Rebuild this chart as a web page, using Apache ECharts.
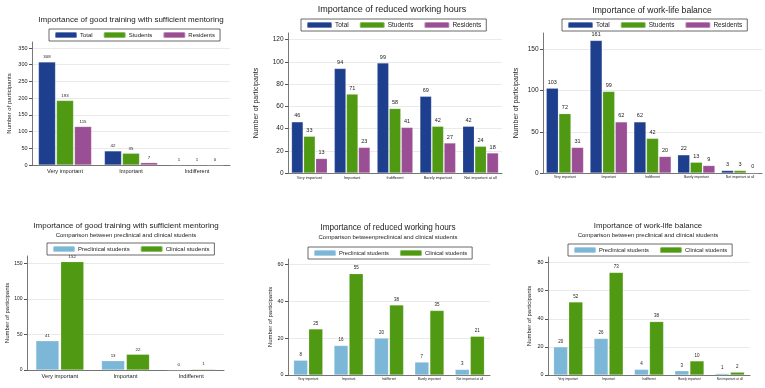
<!DOCTYPE html>
<html>
<head>
<meta charset="utf-8">
<script src="https://cdn.jsdelivr.net/npm/echarts@6/dist/echarts.min.js"></script>
<style>
  html, body { margin: 0; padding: 0; background: #fff; }
  #chart { width: 765px; height: 388px; }
</style>
</head>
<body>
<div id="chart"></div>
<script>
// categories
const cat3 = ["Very important", "Important", "Indifferent"];
const cat5 = ["Very important", "Important", "Indifferent", "Barely important", "Not important at all"];

// top row: total / students / residents
const trainTotal = [308, 42, 1];
const trainStudents = [193, 35, 1];
const trainResidents = [115, 7, 0];

const hoursTotal = [46, 94, 99, 69, 42];
const hoursStudents = [33, 71, 58, 42, 24];
const hoursResidents = [13, 23, 41, 27, 18];

const balanceTotal = [103, 161, 62, 22, 3];
const balanceStudents = [72, 99, 42, 13, 3];
const balanceResidents = [31, 62, 20, 9, 0];

// bottom row: preclinical / clinical
const trainPre = [41, 13, 0];
const trainClin = [152, 22, 1];

const hoursPre = [8, 16, 20, 7, 3];
const hoursClin = [25, 55, 38, 35, 21];

const balancePre = [20, 26, 4, 3, 1];
const balanceClin = [52, 73, 38, 10, 2];

// tick labels
const ticks1 = [0, 50, 100, 150, 200, 250, 300, 350];
const ticks2 = [0, 20, 40, 60, 80, 100, 120];
const ticks3 = [0, 50, 100, 150];
const ticks4 = [0, 50, 100, 150];
const ticks5 = [0, 20, 40, 60];
const ticks6 = [0, 20, 40, 60, 80];

const NAVY = "#1d3f8e";
const GREEN = "#4f9a12";
const PURPLE = "#9a4f94";
const LIGHT = "#7db7d8";
const TXT = "#222";

const panels = [
  { title: "Importance of good training with sufficient mentoring", sub: "", tx: 131, ty: 16, tfs: 8,
    left: 32, top: 42, right: 230, bottom: 165, max: 368, ticks: ticks1, cats: cat3,
    yfs: 5.5, cfs: 5.6, lfs: 4.4, nfs: 6, nameX: 12, bw: 17, gap: "6%",
    legend: { left: 49, top: 29, fs: 6, iw: 22 },
    series: [["Total", trainTotal, NAVY], ["Students", trainStudents, GREEN], ["Residents", trainResidents, PURPLE]] },
  { title: "Importance of reduced working hours", sub: "", tx: 392, ty: 5, tfs: 9,
    left: 288, top: 33, right: 502, bottom: 173, max: 126, ticks: ticks2, cats: cat5,
    yfs: 6.5, cfs: 3.9, lfs: 5.5, nfs: 7, nameX: 260, bw: 11.5, gap: "5%",
    legend: { left: 301, top: 19, fs: 6.5, iw: 25 },
    series: [["Total", hoursTotal, NAVY], ["Students", hoursStudents, GREEN], ["Residents", hoursResidents, PURPLE]] },
  { title: "Importance of work-life balance", sub: "", tx: 652, ty: 6, tfs: 8.6,
    left: 543, top: 33, right: 762, bottom: 173, max: 170, ticks: ticks3, cats: cat5,
    yfs: 6.5, cfs: 3.4, lfs: 5.5, nfs: 7, nameX: 520, bw: 12, gap: "5%",
    legend: { left: 562, top: 19, fs: 6.5, iw: 25 },
    series: [["Total", balanceTotal, NAVY], ["Students", balanceStudents, GREEN], ["Residents", balanceResidents, PURPLE]] },
  { title: "Importance of good training with sufficient mentoring", sub: "Comparison between preclinical and clinical students", tx: 126, ty: 222, tfs: 8,
    left: 27, top: 256, right: 224, bottom: 370, max: 160, ticks: ticks4, cats: cat3,
    yfs: 5, cfs: 5.7, lfs: 4.4, nfs: 6, nameX: 10, bw: 23, gap: "8%",
    legend: { left: 47, top: 243, fs: 6, iw: 22 },
    series: [["Preclinical students", trainPre, LIGHT], ["Clinical students", trainClin, GREEN]] },
  { title: "Importance of reduced working hours", sub: "Comparison betweenpreclinical and clinical students", tx: 388, ty: 224, tfs: 8.2,
    left: 288, top: 259, right: 490, bottom: 375, max: 63, ticks: ticks5, cats: cat5,
    yfs: 5.4, cfs: 3.2, lfs: 4.5, nfs: 6, nameX: 273, bw: 14, gap: "8%",
    legend: { left: 308, top: 247, fs: 5.8, iw: 22 },
    series: [["Preclinical students", hoursPre, LIGHT], ["Clinical students", hoursClin, GREEN]] },
  { title: "Importance of work-life balance", sub: "Comparison between preclinical and clinical students", tx: 648, ty: 222, tfs: 7.8,
    left: 548, top: 257, right: 750, bottom: 375, max: 84, ticks: ticks6, cats: cat5,
    yfs: 5.4, cfs: 3.1, lfs: 4.5, nfs: 6, nameX: 532, bw: 14, gap: "8%",
    legend: { left: 568, top: 244, fs: 5.8, iw: 22 },
    series: [["Preclinical students", balancePre, LIGHT], ["Clinical students", balanceClin, GREEN]] }
];

const option = {
  animation: false,
  backgroundColor: "#fff",
  textStyle: { fontFamily: "Liberation Sans, Arial, sans-serif" },
  title: [], legend: [], grid: [], xAxis: [], yAxis: [], series: []
};

panels.forEach((p, i) => {
  option.title.push({
    text: p.title, subtext: p.sub, left: p.tx, top: p.ty, textAlign: "center",
    itemGap: 2, padding: 0,
    textStyle: { fontSize: p.tfs, fontWeight: "normal", color: TXT },
    subtextStyle: { fontSize: 6, color: TXT }
  });
  option.legend.push({
    left: p.legend.left, top: p.legend.top,
    data: p.series.map(s => s[0]),
    itemWidth: p.legend.iw, itemHeight: 6, itemGap: 10,
    borderColor: "#444", borderWidth: 0.8, padding: [2, 5],
    selectedMode: false,
    textStyle: { fontSize: p.legend.fs, color: TXT, padding: [0, 0, 0, -2] }
  });
  option.grid.push({ left: p.left, top: p.top, width: p.right - p.left, height: p.bottom - p.top });
  option.xAxis.push({
    type: "category", gridIndex: i, data: p.cats,
    axisTick: { show: false },
    axisLine: { lineStyle: { color: "#555", width: 0.8 } },
    axisLabel: { fontSize: p.cfs, color: TXT, margin: 3, interval: 0 }
  });
  option.yAxis.push({
    type: "value", gridIndex: i, min: 0, max: p.max, interval: p.ticks[1],
    name: "Number of participants", nameLocation: "middle", nameGap: p.left - p.nameX,
    nameTextStyle: { fontSize: p.nfs, color: TXT },
    axisLine: { show: true, lineStyle: { color: "#555", width: 0.8 } },
    axisTick: { show: true, length: 3, customValues: p.ticks, lineStyle: { color: "#555" } },
    axisLabel: { fontSize: p.yfs, color: TXT, margin: 4.5, customValues: p.ticks },
    splitLine: { show: true, lineStyle: { color: "#e4e4e4", width: 0.8 } }
  });
  p.series.forEach(s => {
    option.series.push({
      type: "bar", name: s[0], data: s[1], xAxisIndex: i, yAxisIndex: i,
      barWidth: p.bw, barGap: p.gap,
      itemStyle: { color: s[2], borderColor: "rgba(255,255,255,0.35)", borderWidth: 0.5 },
      label: { show: true, position: "top", distance: 3, fontSize: p.lfs, color: TXT }
    });
  });
});

const chart = echarts.init(document.getElementById("chart"));
chart.setOption(option);
</script>
</body>
</html>
